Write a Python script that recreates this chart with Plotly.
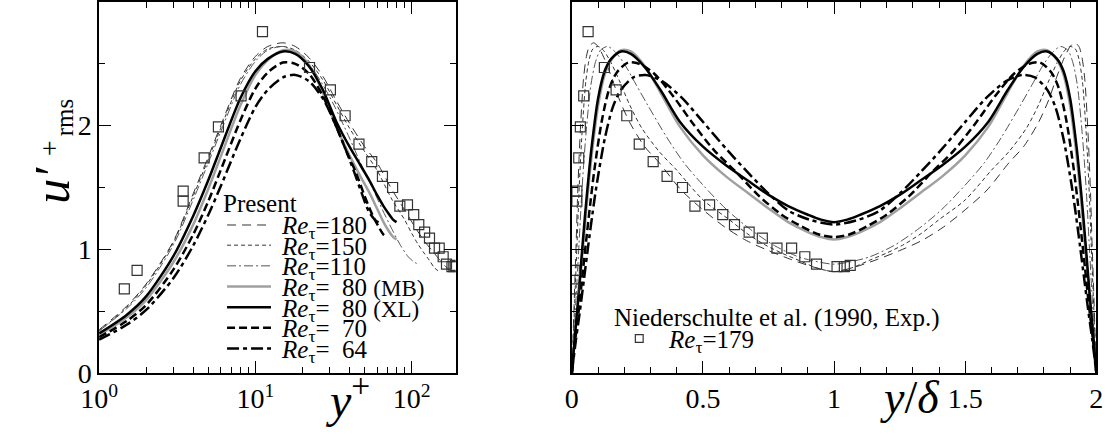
import numpy as np
import plotly.graph_objects as go

W, H = 1119, 440

# ---------------- data ----------------
# Present simulations: y+ (distance from wall in wall units) and u'+_rms
re_180 = 180
yp_180 = [0, 1, 1.5, 2, 3, 4, 5, 6, 8, 10, 12, 15, 18, 22, 27, 33, 40, 50, 60, 75, 90, 105, 120, 135, 150, 165, 180]
u_180 = [0, 0.35, 0.54, 0.72, 1.07, 1.45, 1.75, 2.00, 2.38, 2.56, 2.64, 2.67, 2.64, 2.55, 2.40, 2.20, 2.02, 1.83, 1.70, 1.48, 1.32, 1.18, 1.07, 0.99, 0.92, 0.86, 0.82]

re_150 = 150
yp_150 = [0, 1, 1.5, 2, 3, 4, 5, 6, 8, 10, 12, 15, 18, 22, 27, 33, 40, 50, 60, 75, 90, 100, 110, 120, 130, 140, 150]
u_150 = [0, 0.34, 0.53, 0.71, 1.06, 1.43, 1.73, 1.98, 2.36, 2.54, 2.62, 2.64, 2.61, 2.52, 2.37, 2.17, 1.98, 1.79, 1.64, 1.40, 1.24, 1.13, 1.04, 0.97, 0.91, 0.85, 0.82]

re_110 = 110
yp_110 = [0, 1, 1.5, 2, 3, 4, 5, 6, 8, 10, 12, 15, 18, 22, 27, 32, 40, 47, 55, 65, 75, 85, 95, 103, 110]
u_110 = [0, 0.34, 0.52, 0.69, 1.04, 1.40, 1.70, 1.95, 2.33, 2.52, 2.61, 2.64, 2.60, 2.50, 2.33, 2.16, 1.90, 1.70, 1.52, 1.32, 1.16, 1.03, 0.94, 0.90, 0.88]

re_80 = 80
yp_80 = [0, 1, 1.5, 2, 3, 4, 5, 6, 8, 10, 12, 15, 18, 22, 27, 33, 40, 47, 54, 60, 66, 72, 76, 80]
u_80mb = [0, 0.31, 0.45, 0.59, 0.90, 1.20, 1.49, 1.75, 2.16, 2.41, 2.53, 2.61, 2.60, 2.49, 2.27, 1.99, 1.76, 1.59, 1.45, 1.33, 1.22, 1.14, 1.10, 1.08]
u_80xl = [0, 0.32, 0.47, 0.62, 0.95, 1.27, 1.56, 1.82, 2.22, 2.44, 2.54, 2.60, 2.58, 2.48, 2.29, 2.03, 1.83, 1.68, 1.55, 1.44, 1.35, 1.28, 1.24, 1.22]

re_70 = 70
yp_70 = [0, 1, 1.5, 2, 3, 4, 5, 6, 8, 10, 12, 15, 18, 22, 27, 32, 38, 44, 50, 56, 61, 66, 70]
u_70 = [0, 0.29, 0.42, 0.55, 0.84, 1.12, 1.39, 1.64, 2.04, 2.30, 2.43, 2.51, 2.50, 2.42, 2.24, 2.03, 1.80, 1.62, 1.43, 1.28, 1.19, 1.12, 1.10]

re_64 = 64
yp_64 = [0, 1, 1.5, 2, 3, 4, 5, 6, 8, 10, 12, 15, 18, 22, 27, 32, 38, 43, 48, 53, 58, 64]
u_64 = [0, 0.27, 0.39, 0.51, 0.77, 1.03, 1.28, 1.51, 1.89, 2.15, 2.29, 2.39, 2.41, 2.36, 2.22, 2.03, 1.80, 1.62, 1.45, 1.31, 1.24, 1.20]

# Experiment: Niederschulte et al. (1990), Re_tau = 179
re_exp = 179
yp_exp = [1.45, 1.75, 3.45, 3.45, 4.7, 5.8, 8.1, 11.1, 22.2, 30.2, 37.5, 46, 55.5, 65, 75.5, 84, 94, 103,
          111, 121, 130, 140, 150, 159, 167, 181, 186, 190]
u_exp = [0.68, 0.83, 1.47, 1.39, 1.74, 1.99, 2.24, 2.76, 2.47, 2.29, 2.08, 1.85, 1.71, 1.59, 1.50, 1.35, 1.36, 1.28,
         1.20, 1.14, 1.09, 1.01, 1.01, 0.94, 0.88, 0.86, 0.86, 0.87]

SMALL = '<span style="font-size:23px">'
series_labels = ["=180", "=150", "=110", "=\u200780 " + SMALL + "(MB)</span>", "=\u200780 " + SMALL + "(XL)</span>",
                 "=\u200770", "=\u200764"]

# ---------------- styles ----------------
FONT = "Liberation Serif"
series = [
    (re_180, yp_180, u_180, dict(color="#333333", width=1.0, dash="9px,6px")),
    (re_150, yp_150, u_150, dict(color="#333333", width=1.0, dash="4px,3px")),
    (re_110, yp_110, u_110, dict(color="#555555", width=1.0, dash="9px,3px,2px,3px")),
    (re_80, yp_80, u_80mb, dict(color="#a0a0a0", width=2.5, dash="solid")),
    (re_80, yp_80, u_80xl, dict(color="#000000", width=2.5, dash="solid")),
    (re_70, yp_70, u_70, dict(color="#000000", width=2.5, dash="8px,4px")),
    (re_64, yp_64, u_64, dict(color="#000000", width=2.5, dash="12px,4px,4px,4px")),
]

fig = go.Figure()

for (re, yp, u, st), lab in zip(series, series_labels):
    yp = np.array(yp, float)
    u = np.array(u, float)
    m = yp > 0
    fig.add_trace(go.Scatter(x=yp[m], y=u[m], mode="lines", line=dict(shape="spline", smoothing=0.8, **st),
                             xaxis="x", yaxis="y", showlegend=False, name="Re_tau" + lab))
    yd = yp / re
    xs = np.concatenate([yd, (2 - yd[:-1])[::-1]])
    us = np.concatenate([u, u[:-1][::-1]])
    fig.add_trace(go.Scatter(x=xs, y=us, mode="lines", line=dict(shape="spline", smoothing=0.8, **st),
                             xaxis="x2", yaxis="y2", showlegend=False, name="Re_tau" + lab))

mk = dict(symbol="square-open", size=10, color="#333333", line=dict(width=1.2, color="#333333"))
fig.add_trace(go.Scatter(x=yp_exp, y=u_exp, mode="markers", marker=mk, xaxis="x", yaxis="y", showlegend=False))
fig.add_trace(go.Scatter(x=np.array(yp_exp) / re_exp, y=u_exp, mode="markers", marker=mk,
                         xaxis="x2", yaxis="y2", showlegend=False))


def px(x):
    return x / W


def py(y):
    return 1 - y / H


tickfont = dict(family=FONT, size=28, color="black")
common = dict(showline=True, linewidth=1.5, linecolor="black", mirror="ticks", ticks="inside",
              ticklen=12, tickwidth=1.3, tickcolor="black", showgrid=False, zeroline=False, tickfont=tickfont)
ydom = [py(387), py(1)]
minor_y = dict(tickvals=[0.5, 1.5, 2.5], ticks="inside", ticklen=6, tickwidth=1.1, tickcolor="black")

fig.update_layout(
    width=W, height=H, margin=dict(l=0, r=0, t=0, b=0),
    paper_bgcolor="white", plot_bgcolor="white",
    xaxis=dict(type="log", range=[0, np.log10(191)], domain=[px(82), px(447)], anchor="y",
               tickvals=[1, 10, 100], ticktext=["10<sup>0</sup>", "10<sup>1</sup>", "10<sup>2</sup>"],
               minor=dict(tickvals=[2, 3, 4, 5, 6, 7, 8, 9, 20, 30, 40, 50, 60, 70, 80, 90],
                          ticks="inside", ticklen=6, tickwidth=1.1, tickcolor="black"), **common),
    yaxis=dict(range=[0, 3], domain=ydom, anchor="x", tickvals=[0, 1, 2], minor=minor_y, **common),
    xaxis2=dict(range=[0, 2], domain=[px(566), px(1103)], anchor="y2",
                tickvals=[0, 0.5, 1, 1.5, 2], ticktext=["0", "0.5", "1", "1.5", "2"],
                minor=dict(tickvals=[0.1, 0.2, 0.3, 0.4, 0.6, 0.7, 0.8, 0.9, 1.1, 1.2, 1.3, 1.4, 1.6, 1.7, 1.8, 1.9],
                           ticks="inside", ticklen=6, tickwidth=1.1, tickcolor="black"), **common),
    yaxis2=dict(range=[0, 3], domain=ydom, anchor="x2", tickvals=[0, 1, 2], showticklabels=False,
                minor=minor_y, **common),
)

ann = []
shapes = []


def txt(text, x, y, size, angle=0, xa="center", ya="middle"):
    ann.append(dict(text=text, x=px(x), y=py(y), xref="paper", yref="paper", showarrow=False, textangle=angle,
                    font=dict(family=FONT, size=size, color="black"), xanchor=xa, yanchor=ya))


# axis titles (y title built from rotated pieces: u', +, rms)
txt("<i>u′</i>", 33, 192, 50, angle=-90)
txt("+", 31, 153, 28, angle=-90)
txt("rms", 46, 121, 25, angle=-90)
txt("<i>y</i><sup>+</sup>", 336, 412, 48)
txt("<i>y</i>/<i>δ</i>", 912, 412, 46)

# legend, left panel
txt("Present", 207, 211, 25, xa="left")
rows = [233, 254, 275.5, 297, 318.5, 340, 361.5]
for (re, yp, u, st), lab, ry in zip(series, series_labels, rows):
    shapes.append(dict(type="line", xref="paper", yref="paper", x0=px(213), x1=px(258), y0=py(ry), y1=py(ry),
                       line=dict(color=st["color"], width=st["width"], dash=st["dash"])))
    txt("<i>Re</i><sub>τ</sub>" + lab, 266, ry + 3, 25, xa="left")

# legend, right panel
txt("Niederschulte et al. (1990, Exp.)", 607, 330, 25, xa="left")
shapes.append(dict(type="rect", xref="paper", yref="paper", x0=px(631), x1=px(639), y0=py(355), y1=py(347),
                   line=dict(color="#333333", width=1.2)))
txt("<i>Re</i><sub>τ</sub>=179", 662, 354, 25, xa="left")

fig.update_layout(annotations=ann, shapes=shapes)
fig.write_html("out.html", post_script="document.body.style.margin='0';")
